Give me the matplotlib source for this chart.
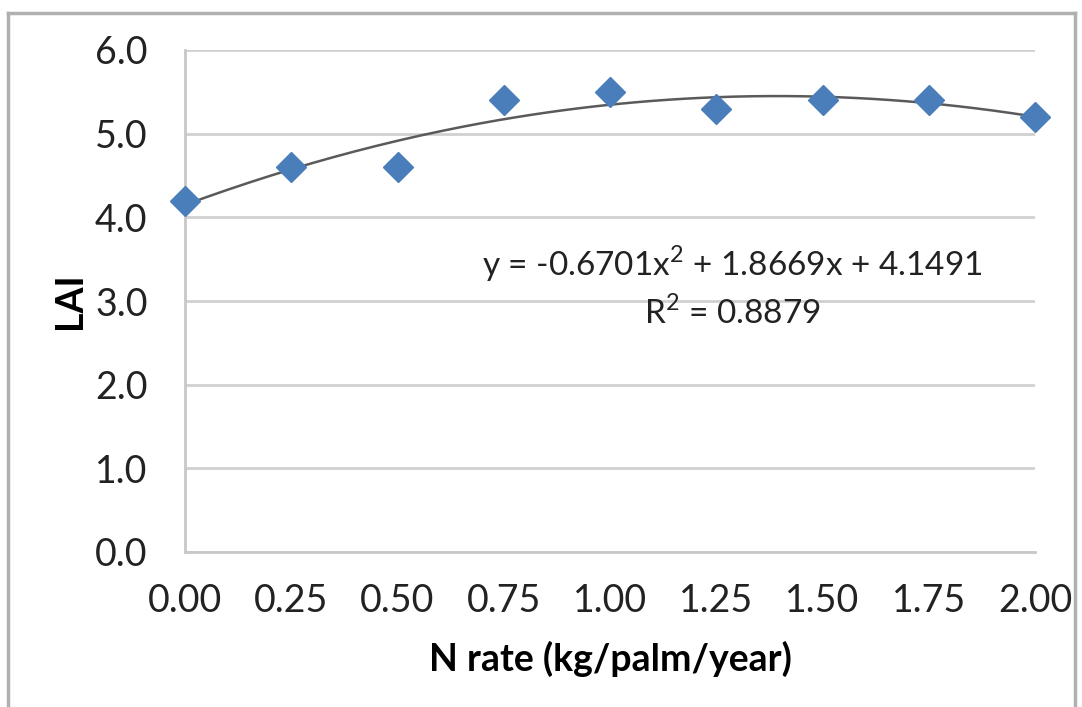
import numpy as np
import matplotlib.pyplot as plt
from matplotlib.lines import Line2D

# N rate (kg/palm/year) and leaf area index
n_rate = [0.00, 0.25, 0.50, 0.75, 1.00, 1.25, 1.50, 1.75, 2.00]
lai = [4.2, 4.6, 4.6, 5.4, 5.5, 5.3, 5.4, 5.4, 5.2]
xticks = [0.00, 0.25, 0.50, 0.75, 1.00, 1.25, 1.50, 1.75, 2.00]
yticks = [0.0, 1.0, 2.0, 3.0, 4.0, 5.0, 6.0]
eq_text = "y = -0.6701x$^{2}$ + 1.8669x + 4.1491"
r2_text = "R$^{2}$ = 0.8879"

plt.rcParams['font.family'] = ['Lato', 'DejaVu Sans']
plt.rcParams['mathtext.fontset'] = 'custom'
plt.rcParams['mathtext.rm'] = 'Lato'

fig = plt.figure(figsize=(10.82, 7.07), dpi=100)
W, H = 1082, 707
ax = fig.add_axes([185 / W, 1 - 552 / H, 850 / W, 502 / H])

# outer chart border (bottom edge falls outside the picture)
for xs, ys in [([8 / W, 8 / W], [0, 1 - 13 / H]),
               ([8 / W, 1075 / W], [1 - 13 / H, 1 - 13 / H]),
               ([1075 / W, 1075 / W], [0, 1 - 13 / H])]:
    fig.add_artist(Line2D(xs, ys, color='#b0b0b0', lw=2.5))

# polynomial trendline from the data
coef = np.polyfit(n_rate, lai, 2)
xs = np.linspace(0, 2, 200)
ax.plot(xs, np.polyval(coef, xs), color='#5a5a5a', lw=1.8, zorder=3)
ax.plot(n_rate, lai, 'D', color='#4a7ebb', ms=15, mec='#4a7ebb', zorder=4,
        clip_on=False)

ax.set_xlim(0, 2)
ax.set_ylim(0, 6)
ax.set_xticks(xticks)
ax.set_xticklabels([f"{v:.2f}" for v in xticks])
ax.set_yticks(yticks)
ax.set_yticklabels([f"{v:.1f}" for v in yticks])
ax.tick_params(length=0, labelsize=27, colors='#222222')
ax.tick_params(axis='x', pad=22)
ax.tick_params(axis='y', pad=27)
ax.yaxis.grid(True, color='#d0d0d0', lw=2)
ax.set_axisbelow(True)
for s in ['top', 'right']:
    ax.spines[s].set_visible(False)
for s in ['left', 'bottom']:
    ax.spines[s].set_color('#c8c8c8')
    ax.spines[s].set_linewidth(2)

ax.set_xlabel("N rate (kg/palm/year)", fontsize=27, fontweight='bold', labelpad=16)
ax.set_ylabel("LAI", fontsize=27, fontweight='bold', labelpad=6)

ax.text(1.287, 3.45, eq_text, fontsize=24, ha='center', va='center', color='#222222')
ax.text(1.287, 2.86, r2_text, fontsize=24, ha='center', va='center', color='#222222')

fig.savefig("out.png", dpi=100)
